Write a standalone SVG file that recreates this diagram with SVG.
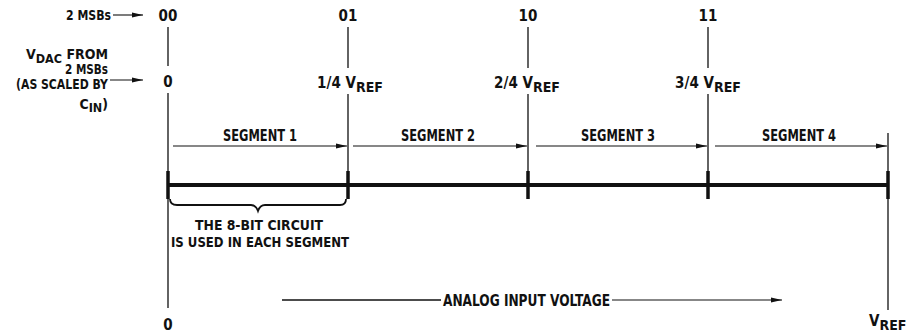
<svg xmlns="http://www.w3.org/2000/svg" width="912" height="335" viewBox="0 0 912 335">
<style>
text{font-family:"Liberation Sans Narrow","DejaVu Sans Condensed","Liberation Sans",sans-serif;font-weight:bold;fill:#111}
.m{font-size:15px;text-anchor:middle}
.b{font-size:13.5px;text-anchor:middle}
.l{font-size:14px;text-anchor:end}
.thin{stroke:#111;stroke-width:1.3;fill:none}
.tick{stroke:#111;stroke-width:3.5;fill:none}
.axis{stroke:#111;stroke-width:4;fill:none}
.arr{stroke:#111;stroke-width:1.1;fill:none;marker-end:url(#ah)}
</style>
<defs>
<marker id="ah" markerUnits="userSpaceOnUse" markerWidth="12" markerHeight="6" refX="11" refY="3" orient="auto">
<path d="M0,0.6 L11,3 L0,5.4 Z" fill="#111"/>
</marker>
</defs>
<rect width="912" height="335" fill="#fff"/>

<g id="left-labels">
<text class="l" x="111" y="20" textLength="45" lengthAdjust="spacingAndGlyphs">2 MSBs</text>
<text class="l" x="108" y="59"><tspan font-size="14">V</tspan><tspan font-size="12.5" dy="4">DAC</tspan><tspan dy="-4"> FROM</tspan></text>
<text class="l" x="108" y="74" textLength="43" lengthAdjust="spacingAndGlyphs">2 MSBs</text>
<text class="l" x="108" y="88.5" textLength="92" lengthAdjust="spacingAndGlyphs">(AS SCALED BY</text>
<text class="l" x="108" y="109">C<tspan font-size="12.5" dy="3">IN</tspan><tspan dy="-3">)</tspan></text>
</g>

<g id="mark-00">
<text class="m" x="168" y="21">00</text>
<text class="m" x="168" y="87">0</text>
<path class="thin" d="M168,27 V66 M168,93 V308"/>
<path class="tick" d="M168,171 V199"/>
<text class="m" x="168" y="330">0</text>
</g>

<g id="mark-01">
<text class="m" x="348" y="21">01</text>
<text class="m" x="350" y="88">1/4 V<tspan font-size="14" dy="4">REF</tspan></text>
<path class="thin" d="M348,27 V68 M348,94 V171"/>
<path class="tick" d="M348,171 V199"/>
</g>

<g id="mark-10">
<text class="m" x="528" y="21">10</text>
<text class="m" x="527" y="88">2/4 V<tspan font-size="14" dy="4">REF</tspan></text>
<path class="thin" d="M528,27 V68 M528,94 V171"/>
<path class="tick" d="M528,171 V199"/>
</g>

<g id="mark-11">
<text class="m" x="708" y="21">11</text>
<text class="m" x="708" y="88">3/4 V<tspan font-size="14" dy="4">REF</tspan></text>
<path class="thin" d="M708,27 V68 M708,94 V171"/>
<path class="tick" d="M708,171 V199"/>
</g>

<g id="mark-vref">
<path class="thin" d="M888,133 V310"/>
<path class="tick" d="M888,171 V199"/>
<text x="869" y="326" style="font-size:15px">V<tspan font-size="14" dy="4">REF</tspan></text>
</g>

<g id="axis">
<path class="axis" d="M168,185 H888"/>
</g>

<g id="segments">
<text class="m" x="260" y="141" textLength="74" lengthAdjust="spacingAndGlyphs">SEGMENT 1</text>
<text class="m" x="438" y="141" textLength="74" lengthAdjust="spacingAndGlyphs">SEGMENT 2</text>
<text class="m" x="618" y="141" textLength="74" lengthAdjust="spacingAndGlyphs">SEGMENT 3</text>
<text class="m" x="799" y="141" textLength="74" lengthAdjust="spacingAndGlyphs">SEGMENT 4</text>
</g>

<g id="brace">
<path stroke="#111" stroke-width="1.8" fill="none" d="M170,199 Q170,205 177,205 L251,205 Q256,205 258,211 Q260,205 265,205 L340,205 Q346,205 346,199"/>
<text class="b" x="259" y="230" textLength="128" lengthAdjust="spacingAndGlyphs">THE 8-BIT CIRCUIT</text>
<text class="b" x="260" y="246.5" textLength="178" lengthAdjust="spacingAndGlyphs">IS USED IN EACH SEGMENT</text>
</g>

<g id="analog-label">
<text class="m" x="526.5" y="306" textLength="167" lengthAdjust="spacingAndGlyphs">ANALOG INPUT VOLTAGE</text>
</g>

<g id="connectors">
<path class="arr" d="M113,15 H143"/>
<path class="arr" d="M110,80 H143"/>
<path class="arr" d="M173,146 H347"/>
<path class="arr" d="M353,146 H527"/>
<path class="arr" d="M536,146 H707"/>
<path class="arr" d="M715,146 H887"/>
<path class="thin" d="M282,300 H441"/>
<path class="arr" d="M612,300 H782"/>
</g>
</svg>
